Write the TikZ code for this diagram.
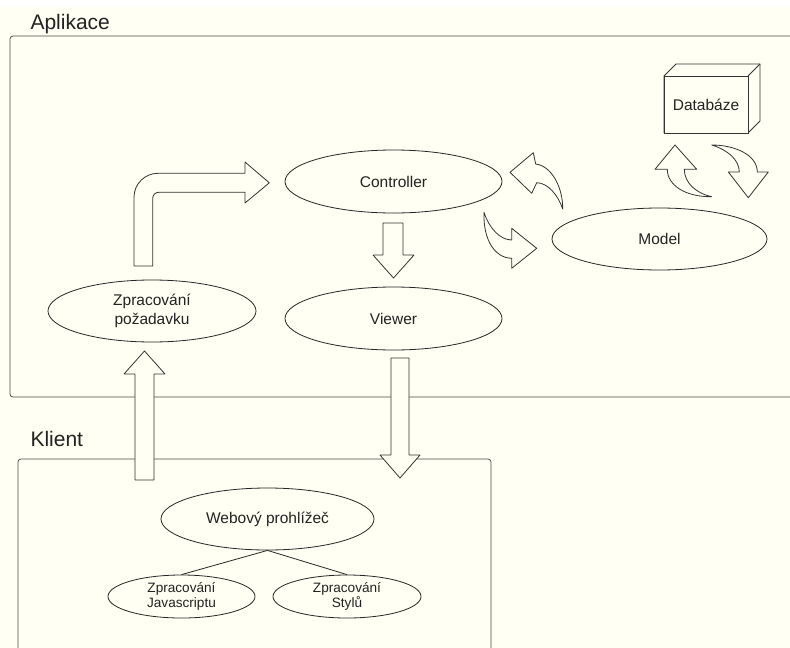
\documentclass[tikz,border=0pt]{standalone}
\usepackage{fontspec}
\setmainfont{Liberation Sans}
\usetikzlibrary{shapes.geometric}

\definecolor{paper}{HTML}{FFFFF4}
\definecolor{ink}{HTML}{222222}

\tikzset{
  part/.style={draw=black!70, line width=0.8pt, rounded corners=3pt},
  title/.style={anchor=base west, text=ink, font=\fontsize{21}{24}\selectfont},
  oval/.style={ellipse, draw=black!85, line width=0.8pt, fill=paper, inner sep=0pt,
    text=ink, align=center, font=\fontsize{15.5}{19}\selectfont},
  smalloval/.style={oval, font=\fontsize{13.6}{15.5}\selectfont},
  blockarrow/.style={draw=black!80, line width=0.8pt, fill=paper, line join=round}
}

\begin{document}
\begin{tikzpicture}[x=1pt, y=-1pt]
  \clip (0,0) rectangle (790,648);
  \fill [white] (0,0) rectangle (790,648);
  \fill [paper] (0,7) rectangle (790,648);

  % the two parts
  \draw [part] (10,36) rectangle (810,397);
  \node [title] (app) at (27,29.5) {Aplikace};
  \draw [part] (18,459) rectangle (491,670);
  \node [title] (client) at (27,446) {Klient};

  % server side
  \node [oval, minimum width=217pt, minimum height=63pt] (ctrl) at (393.5,181.5) {Controller};
  \node [oval, minimum width=217pt, minimum height=63pt] (view) at (393.5,318.5) {Viewer};
  \node [oval, minimum width=208pt, minimum height=62pt] (req) at (152,311) {Zpracování\\požadavku};
  \node [oval, minimum width=215pt, minimum height=62pt] (model) at (659.5,239) {Model};

  \draw [blockarrow] (664,76) -- (676,64) -- (760,64) -- (760,121) -- (748,133) -- (664,133) -- cycle;
  \draw [blockarrow] (748,76) -- (760,64);
  \node [draw=black!80, line width=0.8pt, fill=paper, minimum width=84pt, minimum height=57pt,
    inner sep=0pt, text=ink, font=\fontsize{15.5}{19}\selectfont] (db) at (706,104.5) {Databáze};

  % client side
  \node [oval, minimum width=213pt, minimum height=62pt] (web) at (267.5,519) {Webový prohlížeč};
  \node [smalloval, minimum width=147pt, minimum height=43pt] (js) at (181.5,596.5) {Zpracování\\Javascriptu};
  \node [smalloval, minimum width=148pt, minimum height=43pt] (css) at (347,596.5) {Zpracování\\Stylů};
  \draw [black!85, line width=0.8pt] (web.south) -- (js.north);
  \draw [black!85, line width=0.8pt] (web.south) -- (css.north);

  % straight arrows
  \draw [blockarrow] (135,480) -- (135,374) -- (124,374) -- (144.5,351) -- (165,374) -- (154,374) -- (154,480) -- cycle;
  \draw [blockarrow] (391,358) -- (391,455) -- (380,455) -- (400,478) -- (420,455) -- (409,455) -- (409,358) -- cycle;
  \draw [blockarrow] (383,223) -- (383,255) -- (373,255) -- (393.5,278) -- (414,255) -- (403,255) -- (403,223) -- cycle;

  % bent arrow into the controller
  \draw [blockarrow] (134,266) -- (134,197.3) .. controls (134,184) and (144.7,173.3) .. (158,173.3)
    -- (245,173.3) -- (245,162) -- (269.3,182.8) -- (245,203) -- (245,192.3) -- (158.7,192.3)
    .. controls (155.4,192.3) and (152.7,195) .. (152.7,198.3) -- (152.7,266) -- cycle;

  % curved arrows between controller and model
  \draw [blockarrow] (562.7,209) .. controls (563,188) and (552,166) .. (535.7,164)
    -- (533.3,152.7) -- (510,172.3) -- (531.7,193.3) -- (536.7,182.7)
    .. controls (548,183) and (558,195) .. (562.7,209) -- cycle;
  \draw [blockarrow] (484,212.3) .. controls (489,228) and (500,240) .. (511.7,240)
    -- (511.7,228.3) -- (536.7,248.3) -- (511.7,268.3) -- (511.7,258.3)
    .. controls (495,258) and (483,240) .. (484,212.3) -- cycle;

  % curved arrows between model and database
  \draw [blockarrow] (711.7,196.7) .. controls (685,197) and (667.3,185) .. (667.3,169.3)
    -- (655,169.3) -- (675,145) -- (696.7,169.3) -- (684.3,169.3)
    .. controls (684.3,182) and (695,193) .. (711.7,196.7) -- cycle;
  \draw [blockarrow] (711.7,145) .. controls (735,145) and (757.3,155) .. (757.3,172)
    -- (768.3,172) -- (748.3,197.7) -- (728.3,172) -- (739.3,172)
    .. controls (739.3,160) and (728,150) .. (711.7,145) -- cycle;
\end{tikzpicture}
\end{document}
